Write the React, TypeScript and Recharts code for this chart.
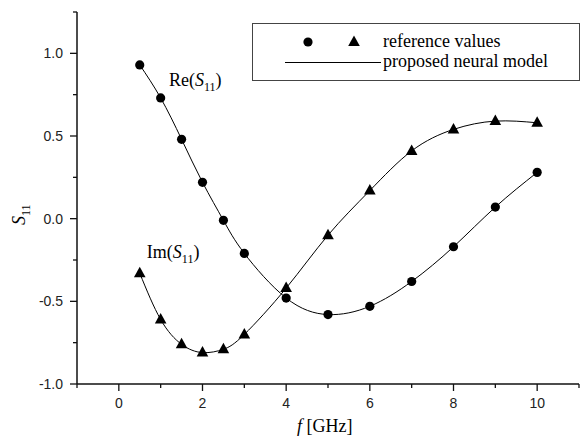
import React from "react";
import { ComposedChart, Line, XAxis, YAxis, Legend, ReferenceDot } from "recharts";

// frequency points [GHz]
const freq = [0.5, 1, 1.5, 2, 2.5, 3, 4, 5, 6, 7, 8, 9, 10];
// Re(S11) and Im(S11)
const reS11 = [0.93, 0.73, 0.48, 0.22, -0.01, -0.21, -0.48, -0.58, -0.53, -0.38, -0.17, 0.07, 0.28];
const imS11 = [-0.33, -0.61, -0.76, -0.81, -0.79, -0.7, -0.42, -0.1, 0.17, 0.41, 0.54, 0.59, 0.58];

const xTicks = [-1, 0, 1, 2, 3, 4, 5, 6, 7, 8, 9, 10, 11];
const yTicks = [-1, -0.75, -0.5, -0.25, 0, 0.25, 0.5, 0.75, 1, 1.25];

const legendLabels = ["reference values", "proposed neural model"];

const data = freq.map((f, i) => ({ f, re: reS11[i], im: imS11[i] }));

const SERIF = "'Liberation Serif', 'Times New Roman', serif";
const SANS = "'Liberation Sans', Arial, sans-serif";
const INK = "#111";

function XTick({ x, y, payload }: any) {
  const v = payload.value;
  const major = v % 2 === 0;
  return (
    <g>
      <line x1={x} y1={y} x2={x} y2={y + (major ? 7 : 4)} stroke={INK} strokeWidth={1.3} />
      {major && (
        <text x={x} y={y + 24} textAnchor="middle" fontFamily={SANS} fontSize={14} fill="#222">
          {v}
        </text>
      )}
    </g>
  );
}

function YTick({ x, y, payload }: any) {
  const v = payload.value;
  const major = Math.abs(v * 2 - Math.round(v * 2)) < 1e-6;
  return (
    <g>
      <line x1={x} y1={y} x2={x - (major ? 7 : 4)} y2={y} stroke={INK} strokeWidth={1.3} />
      {major && (
        <text x={x - 14} y={y + 5} textAnchor="end" fontFamily={SANS} fontSize={14} fill="#222">
          {v.toFixed(1)}
        </text>
      )}
    </g>
  );
}

function Circle({ cx, cy, index }: any) {
  return <circle key={"c" + index} cx={cx} cy={cy} r={4.6} fill="#000" />;
}

function Triangle({ cx, cy, index }: any) {
  return (
    <polygon
      key={"t" + index}
      points={`${cx},${cy - 6.5} ${cx - 5.8},${cy + 4} ${cx + 5.8},${cy + 4}`}
      fill="#000"
    />
  );
}

function S11Text({ x, y, prefix }: { x: number; y: number; prefix: string }) {
  return (
    <text x={x} y={y} fontFamily={SERIF} fontSize={18} fill="#000">
      {prefix}(
      <tspan fontStyle="italic">S</tspan>
      <tspan fontSize={12} dy={5}>11</tspan>
      <tspan dy={-5}>)</tspan>
    </text>
  );
}

function LegendBox() {
  return (
    <svg width={328} height={58} style={{ display: "block" }}>
      <rect x={0.5} y={0.5} width={327} height={57} fill="#fff" stroke="#444" />
      <circle cx={56} cy={19} r={4.6} fill="#000" />
      <polygon points="102,12.5 96.2,23 107.8,23" fill="#000" />
      <text x={131} y={24} fontFamily={SERIF} fontSize={18} fill="#000">
        {legendLabels[0]}
      </text>
      <line x1={33} y1={39.5} x2={129} y2={39.5} stroke="#000" />
      <text x={131} y={44} fontFamily={SERIF} fontSize={18} fill="#000">
        {legendLabels[1]}
      </text>
    </svg>
  );
}

export default function App() {
  return (
    <div style={{ position: "absolute", left: 0, top: 0, background: "#fff" }}>
      <ComposedChart width={581} height={441} data={data} margin={{ top: 12, right: 2, left: 0, bottom: 0 }}>
        <XAxis
          type="number"
          dataKey="f"
          domain={[-1, 11]}
          ticks={xTicks}
          interval={0}
          height={57}
          tickSize={0}
          tickMargin={0}
          tick={<XTick />}
          axisLine={{ stroke: INK, strokeWidth: 1.5 }}
          allowDataOverflow
          label={{
            content: () => (
              <text x={297} y={432} fontFamily={SERIF} fontSize={18} fill="#000">
                <tspan fontStyle="italic">f</tspan> [GHz]
              </text>
            ),
          }}
        />
        <YAxis
          type="number"
          domain={[-1, 1.25]}
          ticks={yTicks}
          interval={0}
          width={77}
          tickSize={0}
          tickMargin={0}
          tick={<YTick />}
          axisLine={{ stroke: INK, strokeWidth: 1.5 }}
          allowDataOverflow
          label={{
            content: () => (
              <text
                x={25}
                y={225}
                transform="rotate(-90 25 225)"
                fontFamily={SERIF}
                fontSize={18}
                fill="#000"
              >
                <tspan fontStyle="italic">S</tspan>
                <tspan fontSize={12} dy={5}>11</tspan>
              </text>
            ),
          }}
        />
        <Legend
          layout="horizontal"
          verticalAlign="middle"
          align="center"
          content={() => <LegendBox />}
          wrapperStyle={{ position: "absolute", left: 252, top: 23, width: 328, height: 58 }}
        />
        <Line
          type="natural"
          dataKey="re"
          name="Re(S11)"
          stroke="#000"
          strokeWidth={1}
          dot={<Circle />}
          activeDot={false}
          isAnimationActive={false}
        />
        <Line
          type="natural"
          dataKey="im"
          name="Im(S11)"
          stroke="#000"
          strokeWidth={1}
          dot={<Triangle />}
          activeDot={false}
          isAnimationActive={false}
        />
        <ReferenceDot
          x={1.2}
          y={0.8}
          r={0}
          shape={(p: any) => <S11Text x={p.cx} y={p.cy} prefix="Re" />}
        />
        <ReferenceDot
          x={0.67}
          y={-0.24}
          r={0}
          shape={(p: any) => <S11Text x={p.cx} y={p.cy} prefix="Im" />}
        />
      </ComposedChart>
    </div>
  );
}
